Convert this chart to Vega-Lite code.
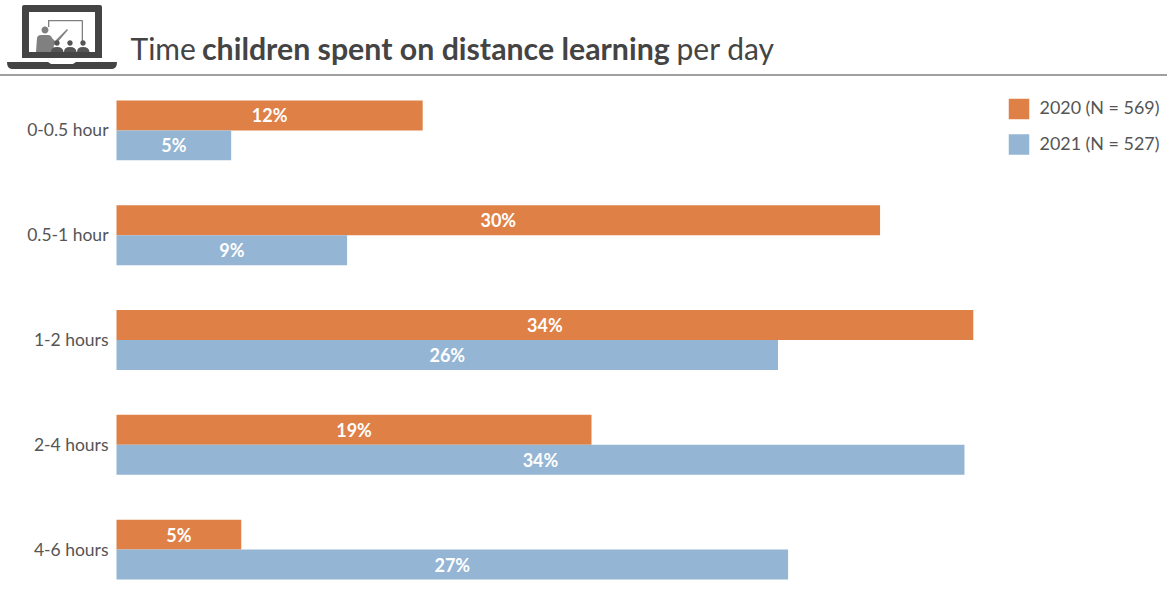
{
  "$schema": "https://vega.github.io/schema/vega-lite/v6.json",
  "autosize": {"type": "none"},
  "padding": {"left": 116.5, "top": 78, "right": 0, "bottom": 0},
  "width": 1050,
  "height": 524,
  "background": "white",
  "config": {"view": {"stroke": null}, "font": "Lato"},
  "data": {"values": [
    {"duration": "0-0.5 hour", "year": "2020 (N = 569)", "share": 0.1215},
    {"duration": "0-0.5 hour", "year": "2021 (N = 527)", "share": 0.0455},
    {"duration": "0.5-1 hour", "year": "2020 (N = 569)", "share": 0.303},
    {"duration": "0.5-1 hour", "year": "2021 (N = 527)", "share": 0.0915},
    {"duration": "1-2 hours", "year": "2020 (N = 569)", "share": 0.34},
    {"duration": "1-2 hours", "year": "2021 (N = 527)", "share": 0.2625},
    {"duration": "2-4 hours", "year": "2020 (N = 569)", "share": 0.1885},
    {"duration": "2-4 hours", "year": "2021 (N = 527)", "share": 0.3365},
    {"duration": "4-6 hours", "year": "2020 (N = 569)", "share": 0.0495},
    {"duration": "4-6 hours", "year": "2021 (N = 527)", "share": 0.2665}
  ]},
  "resolve": {"scale": {"x": "independent"}},
  "layer": [
    {
      "mark": {"type": "bar", "cornerRadius": 0},
      "encoding": {
        "y": {"field": "duration", "type": "nominal", "sort": null,
          "scale": {"paddingInner": 0.4286, "paddingOuter": 0.2143},
          "axis": {"title": null, "domain": false, "ticks": false, "labelPadding": 8.5, "labelOffset": 1, "labelFontSize": 17.5, "labelColor": "#555555", "labelFont": "Lato"}},
        "yOffset": {"field": "year", "type": "nominal", "scale": {"paddingInner": 0, "paddingOuter": 0}},
        "x": {"field": "share", "type": "quantitative", "axis": null, "scale": {"domain": [0, 0.41667], "nice": false}},
        "color": {"field": "year", "type": "nominal",
          "scale": {"domain": ["2020 (N = 569)", "2021 (N = 527)"], "range": ["#DF8047", "#94B5D3"]},
          "legend": {"title": null, "orient": "none", "legendX": 892, "legendY": 20.5, "symbolType": "square", "symbolSize": 420, "symbolStrokeWidth": 0, "symbolOpacity": 1, "labelFontSize": 17.9, "labelColor": "#555555", "labelFont": "Lato", "labelOffset": 10, "rowPadding": 14.5, "padding": 0}}
      }
    },
    {
      "mark": {"type": "text", "font": "Lato", "fontWeight": "bold", "fontSize": 18, "color": "white", "align": "center", "baseline": "middle", "dy": 2},
      "encoding": {
        "y": {"field": "duration", "type": "nominal", "sort": null},
        "yOffset": {"field": "year", "type": "nominal"},
        "x": {"field": "share", "type": "quantitative", "axis": null, "scale": {"domain": [0, 0.83333], "nice": false}},
        "text": {"field": "share", "type": "quantitative", "format": ".0%"}
      }
    },
    {
      "data": {"values": [{"label": "header rule"}]},
      "mark": {"type": "rule", "color": "#7f7f7f", "strokeWidth": 1.5, "clip": false},
      "encoding": {"x": {"value": -117}, "x2": {"value": 1051}, "y": {"value": -3}}
    },
    {
      "data": {"values": [{"part": "Time"}]},
      "mark": {"type": "text", "font": "Lato", "fontSize": 30, "color": "#444444", "align": "left", "baseline": "alphabetic"},
      "encoding": {"x": {"value": 14}, "y": {"value": -18}, "text": {"field": "part"}}
    },
    {
      "data": {"values": [{"part": "children spent on distance learning"}]},
      "mark": {"type": "text", "font": "Lato", "fontWeight": "bold", "fontSize": 30.3, "color": "#444444", "align": "left", "baseline": "alphabetic"},
      "encoding": {"x": {"value": 85.5}, "y": {"value": -18}, "text": {"field": "part"}}
    },
    {
      "data": {"values": [{"part": "per day"}]},
      "mark": {"type": "text", "font": "Lato", "fontSize": 30, "color": "#444444", "align": "left", "baseline": "alphabetic"},
      "encoding": {"x": {"value": 560}, "y": {"value": -18}, "text": {"field": "part"}}
    },
    {
      "data": {"values": [{"part": "laptop"}]},
      "mark": {"type": "point", "filled": true, "opacity": 1, "color": "#444444", "clip": false,
        "shape": "M-40,-32 Q-40,-34 -38,-34 L38,-34 Q40,-34 40,-32 L40,19 L-40,19 Z M-55,23 L-14,23 L-11,25 L11,25 L14,23 L55,23 Q55,30 50,30 L-50,30 Q-55,30 -55,23 Z"},
      "encoding": {"x": {"value": -54.5}, "y": {"value": -39}, "size": {"value": 4}}
    },
    {
      "data": {"values": [{"part": "screen"}]},
      "mark": {"type": "point", "filled": true, "opacity": 1, "color": "#ffffff", "clip": false,
        "shape": "M-33,-27 L33,-27 L33,13 L-33,13 Z"},
      "encoding": {"x": {"value": -54.5}, "y": {"value": -39}, "size": {"value": 4}}
    },
    {
      "data": {"values": [{"part": "whiteboard and presenter"}]},
      "mark": {"type": "point", "filled": true, "opacity": 1, "color": "#808080", "clip": false,
        "shape": "M-14,-19 L20,-19 Q21,-19 21,-18 L21,4 L19.7,4 L19.7,-17.7 L-12.7,-17.7 L-12.7,-12 L-14,-12 Z M-20.5,-9 A3.5,3.5 0 1 1 -20.5,-8.9 Z M-26,13 L-25,-1 Q-24.5,-4 -21,-4 L-14,-4 Q-11,-4 -10,-1 L-7,2 L5,-10 L6,-9 L-6,5 L-8,6 L-9,13 Z"},
      "encoding": {"x": {"value": -54.5}, "y": {"value": -39}, "size": {"value": 4}}
    },
    {
      "data": {"values": [{"part": "audience"}]},
      "mark": {"type": "point", "filled": true, "opacity": 1, "color": "#555555", "clip": false,
        "shape": "M-7.7,4 A2.7,2.7 0 1 1 -7.7,4.1 Z M5.3,4 A2.7,2.7 0 1 1 5.3,4.1 Z M18.3,4 A2.7,2.7 0 1 1 18.3,4.1 Z M-11,13 Q-11,8 -5,8 Q1,8 1.5,13 Z M2,13 Q2,8 8,8 Q14,8 14.5,13 Z M15,13 Q15,8 21,8 Q27,8 27.5,13 Z"},
      "encoding": {"x": {"value": -54.5}, "y": {"value": -39}, "size": {"value": 4}}
    }
  ]
}
